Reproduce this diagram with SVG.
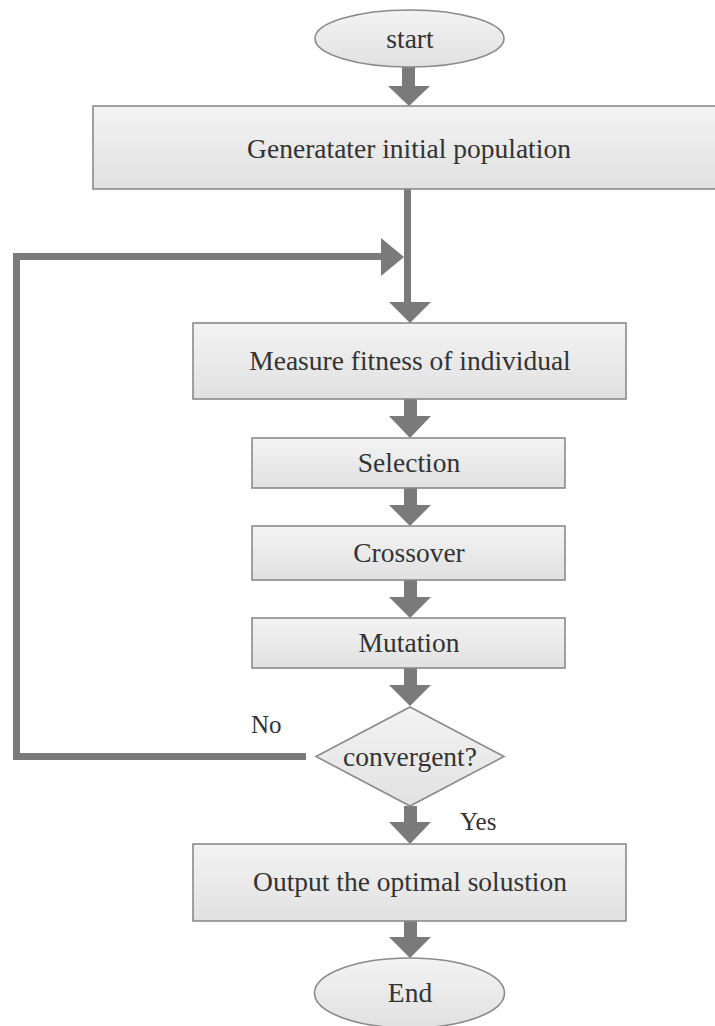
<svg xmlns="http://www.w3.org/2000/svg" width="715" height="1026" viewBox="0 0 715 1026">
<defs>
<linearGradient id="g" x1="0" y1="0" x2="0" y2="1">
<stop offset="0" stop-color="#f3f3f3"/>
<stop offset="1" stop-color="#e1e1e1"/>
</linearGradient>
<style>
.box{fill:url(#g);stroke:#8a8a8a;stroke-width:1.6}
.t{font-family:'Liberation Serif','DejaVu Serif',serif;font-size:27.5px;fill:#333;text-anchor:middle}
.lbl{font-family:'Liberation Serif','DejaVu Serif',serif;font-size:25px;fill:#333}
.ln{stroke:#7a7a7a;fill:none}
.hd{fill:#7a7a7a}
</style>
</defs>
<rect width="715" height="1026" fill="#fff"/>
<g id="connectors">
  <rect class="hd" x="402" y="66" width="13" height="21"/>
  <polygon class="hd" points="388,86 430,86 409,106"/>
  <line class="ln" x1="407.5" y1="189" x2="407.5" y2="303" stroke-width="7"/>
  <polygon class="hd" points="389,302 431,302 410,323"/>
  <polyline class="ln" points="306,756.5 16.5,756.5 16.5,256.5 383,256.5" stroke-width="7"/>
  <polygon class="hd" points="381,238 381,276 404,257"/>
  <rect class="hd" x="404" y="399" width="13" height="18"/>
  <polygon class="hd" points="389,416 431,416 410,438"/>
  <rect class="hd" x="404" y="488" width="13" height="19"/>
  <polygon class="hd" points="389,505 431,505 410,526"/>
  <rect class="hd" x="404" y="580" width="13" height="19"/>
  <polygon class="hd" points="389,597 431,597 410,618"/>
  <rect class="hd" x="404" y="668" width="13" height="19"/>
  <polygon class="hd" points="389,685 431,685 410,706"/>
  <rect class="hd" x="404" y="806" width="13" height="18"/>
  <polygon class="hd" points="389,822 431,822 410,844"/>
  <rect class="hd" x="404" y="921" width="13" height="18"/>
  <polygon class="hd" points="389,937 431,937 410,958"/>
</g>
<g id="start">
  <ellipse class="box" cx="409.5" cy="38.5" rx="94.5" ry="28.5"/>
  <text class="t" x="410" y="48">start</text>
</g>
<g id="init">
  <rect class="box" x="93" y="106" width="630" height="83"/>
  <text class="t" x="409" y="158">Generatater initial population</text>
</g>
<g id="measure">
  <rect class="box" x="193" y="323" width="433" height="76"/>
  <text class="t" x="410" y="370">Measure fitness of individual</text>
</g>
<g id="selection">
  <rect class="box" x="252" y="438" width="313" height="50"/>
  <text class="t" x="409" y="472">Selection</text>
</g>
<g id="crossover">
  <rect class="box" x="252" y="526" width="313" height="54"/>
  <text class="t" x="409" y="562">Crossover</text>
</g>
<g id="mutation">
  <rect class="box" x="252" y="618" width="313" height="50"/>
  <text class="t" x="409" y="652">Mutation</text>
</g>
<g id="convergent">
  <polygon class="box" points="410,707 504,756.5 410,806 316,756.5"/>
  <text class="t" x="410" y="766">convergent?</text>
</g>
<g id="labels">
  <text class="lbl" x="251" y="733">No</text>
  <text class="lbl" x="460" y="830">Yes</text>
</g>
<g id="output">
  <rect class="box" x="193" y="844" width="433" height="77"/>
  <text class="t" x="410" y="891">Output the optimal solustion</text>
</g>
<g id="end">
  <ellipse class="box" cx="409.5" cy="993" rx="95" ry="35"/>
  <text class="t" x="410" y="1002">End</text>
</g>
</svg>
